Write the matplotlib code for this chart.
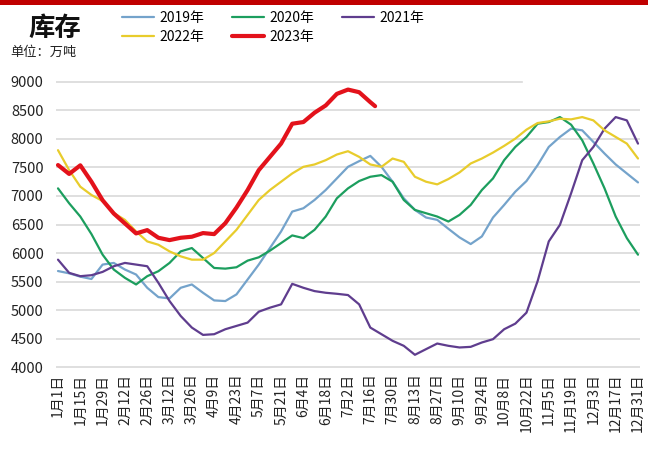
import matplotlib

matplotlib.use("Agg")
import matplotlib.pyplot as plt
from matplotlib.patches import Rectangle

plt.rcParams["font.family"] = ["Noto Sans CJK SC", "DejaVu Sans"]

# sample days (day of year), one per week
days = list(range(1, 366, 7))
days_2023 = days[:29] + [200]

tick_days = list(range(1, 366, 14))
tick_labels = [
    "1月1日", "1月15日", "1月29日", "2月12日", "2月26日", "3月12日", "3月26日",
    "4月9日", "4月23日", "5月7日", "5月21日", "6月4日", "6月18日", "7月2日",
    "7月16日", "7月30日", "8月13日", "8月27日", "9月10日", "9月24日", "10月8日",
    "10月22日", "11月5日", "11月19日", "12月3日", "12月17日", "12月31日",
]

stock_2019 = [
    5686, 5646, 5588, 5547, 5799, 5828, 5712, 5625, 5393, 5230, 5207, 5393, 5451,
    5306, 5172, 5161, 5277, 5538, 5799, 6088, 6378, 6726, 6784, 6929, 7103, 7306,
    7509, 7608, 7700, 7509, 7248, 6958, 6755, 6622, 6581, 6425, 6274, 6158, 6291,
    6622, 6842, 7074, 7260, 7538, 7857, 8031, 8176, 8147, 7944, 7741, 7550, 7393,
    7236,
]
stock_2020 = [
    7132, 6871, 6639, 6332, 5972, 5712, 5567, 5451, 5596, 5683, 5828, 6030, 6088,
    5914, 5740, 5728, 5752, 5868, 5926, 6042, 6175, 6309, 6262, 6407, 6639, 6958,
    7132, 7260, 7335, 7364, 7248, 6929, 6755, 6697, 6639, 6552, 6668, 6842, 7103,
    7306, 7625, 7857, 8031, 8263, 8292, 8379, 8246, 7973, 7567, 7132, 6639, 6262,
    5972,
]
stock_2021 = [
    5885, 5654, 5596, 5613, 5671, 5770, 5828, 5799, 5770, 5480, 5161, 4900, 4697,
    4569, 4581, 4668, 4726, 4784, 4975, 5045, 5103, 5462, 5393, 5335, 5306, 5288,
    5266, 5103, 4697, 4581, 4465, 4378, 4221, 4320, 4418, 4378, 4349, 4360, 4436,
    4494, 4668, 4766, 4958, 5509, 6204, 6494, 7045, 7625, 7857, 8176, 8379, 8321,
    7915,
]
stock_2022 = [
    7800, 7451, 7161, 7016, 6910, 6700, 6581, 6378, 6204, 6146, 6030, 5943, 5885,
    5885, 6001, 6204, 6407, 6668, 6929, 7103, 7248, 7393, 7509, 7550, 7625, 7724,
    7782, 7683, 7550, 7509, 7654, 7596, 7335, 7248, 7202, 7295, 7411, 7567, 7654,
    7758, 7875, 8002, 8159, 8275, 8304, 8350, 8339, 8379, 8321, 8147, 8031, 7915,
    7654,
]
stock_2023 = [
    7540, 7384, 7535, 7248, 6924, 6692, 6518, 6344, 6402, 6268, 6227, 6268, 6286,
    6350, 6332, 6523, 6796, 7103, 7451, 7683, 7915, 8263, 8292, 8455, 8582, 8785,
    8860, 8814, 8640, 8570,
]

series = [
    ("2019年", days, stock_2019, "#74A3CB", 1.6),
    ("2020年", days, stock_2020, "#1C9E5E", 1.6),
    ("2021年", days, stock_2021, "#5F3D8E", 1.6),
    ("2022年", days, stock_2022, "#E8CC2C", 1.6),
    ("2023年", days_2023, stock_2023, "#E3121B", 3.0),
]

fig = plt.figure(figsize=(6.48, 4.59), dpi=100)
ax = fig.add_axes([56 / 648, 1 - 368 / 459, 584 / 648, 287 / 459])

handles = {}
for name, x, y, color, lw in series:
    (line,) = ax.plot(x, y, color=color, lw=lw, label=name, solid_capstyle="round")
    handles[name] = line

yticks = list(range(4000, 9001, 500))
for v in yticks:
    ax.axhline(v, color="#D9D9D9", lw=1.2, zorder=0, xmax=0.798 if v == 9000 else 1)

ax.set_xlim(1 - 2 / 1.593, 365 + 2 / 1.593)
ax.set_ylim(3990, 9010)
ax.set_yticks(yticks)
ax.set_yticklabels([str(v) for v in yticks], fontsize=10.5, color="#222222")
ax.set_xticks(tick_days)
ax.set_xticklabels(tick_labels, rotation=90, fontsize=10, color="#222222")
ax.tick_params(axis="both", length=0)
ax.tick_params(axis="y", pad=9)
ax.tick_params(axis="x", pad=4)
for spine in ax.spines.values():
    spine.set_visible(False)

order = ["2019年", "2022年", "2020年", "2023年", "2021年"]
fig.legend(
    [handles[k] for k in order],
    order,
    ncol=3,
    loc="upper left",
    bbox_to_anchor=(122 / 648, 1 - 11 / 459),
    frameon=False,
    fontsize=10,
    handlelength=2.3,
    handletextpad=0.4,
    columnspacing=2.0,
    labelspacing=0.35,
    borderpad=0,
    borderaxespad=0,
)

fig.text(55 / 648, 1 - 28 / 459, "库存", fontsize=19, fontweight="bold",
         ha="center", va="center", color="#111111")
fig.text(10 / 648, 1 - 52 / 459, "单位：万吨", fontsize=9.5, ha="left",
         va="center", color="#222222")

fig.add_artist(Rectangle((0, 1 - 5 / 459), 1, 5 / 459, transform=fig.transFigure,
                         color="#C00000", lw=0))

fig.savefig("out.png", dpi=100)
